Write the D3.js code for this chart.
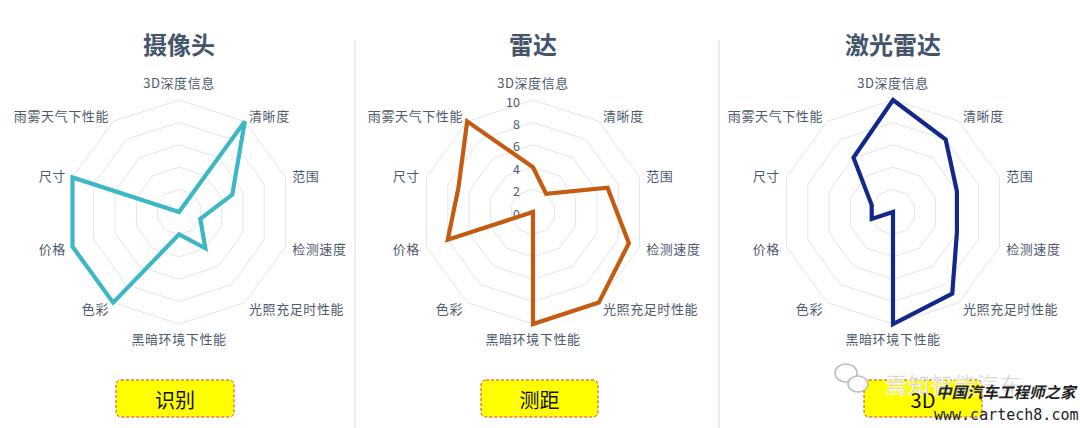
<!DOCTYPE html>
<html>
<head>
<meta charset="utf-8">
<script src="https://cdn.jsdelivr.net/npm/d3@7/dist/d3.min.js"></script>
<style>
  html, body { margin: 0; padding: 0; background: #fff; }
  svg { display: block; font-family: "Noto Sans CJK SC", "Noto Sans", sans-serif; }
</style>
</head>
<body>
<svg id="chart" width="1080" height="428"></svg>
<script>
// ---- data ----
const categories = ["3D深度信息", "清晰度", "范围", "检测速度", "光照充足时性能", "黑暗环境下性能", "色彩", "价格", "尺寸", "雨雾天气下性能"];
const cameraValues = [0, 10, 5, 2, 4, 2, 10, 10, 10, 0];
const radarValues  = [4, 2, 7, 9, 10, 10, 0, 8, 7, 10];
const lidarValues  = [10, 8, 6, 6, 9, 10, 0, 2, 2, 6];
const tickValues = [0, 2, 4, 6, 8, 10];
const panelTitles = ["摄像头", "雷达", "激光雷达"];
const panelTags = ["识别", "测距", "3D"];
const seriesColors = ["#3bb7c6", "#c55a11", "#14288a"];

// ---- layout ----
const svg = d3.select("#chart");
const W = 1080, H = 428;
const R = 112;
const centers = [[179, 212], [533, 212], [893, 212]];
const tagBoxes = [[116, 234], [481, 598], [864, 982]];
const allValues = [cameraValues, radarValues, lidarValues];

const rScale = d3.scaleLinear().domain([0, 10]).range([0, R]);
const angle = d3.scalePoint().domain(categories).range([0, 2 * Math.PI * (categories.length - 1) / categories.length]);

// dividers
[355, 719].forEach(x => {
  svg.append("line").attr("x1", x).attr("x2", x).attr("y1", 40).attr("y2", H)
    .attr("stroke", "#d9d9d9").attr("stroke-width", 1);
});

allValues.forEach((vals, i) => {
  const [cx, cy] = centers[i];
  const g = svg.append("g").attr("transform", `translate(${cx},${cy})`);

  // grid rings
  tickValues.slice(1).forEach(t => {
    const ring = d3.lineRadial().angle(d => angle(d)).radius(() => rScale(t)).curve(d3.curveLinearClosed);
    g.append("path").attr("d", ring(categories)).attr("fill", "none")
      .attr("stroke", "#e3e5ec").attr("stroke-width", 1);
  });

  // axis labels
  categories.forEach(c => {
    const a = angle(c);
    const s = Math.sin(a), co = Math.cos(a);
    const rr = R + 7;
    let x = rr * s, y = -rr * co;
    let anchor = "middle";
    if (s > 0.1) anchor = "start";
    else if (s < -0.1) anchor = "end";
    if (Math.abs(s) <= 0.1) y += co > 0 ? -11 : 7;
    g.append("text").attr("x", x).attr("y", y)
      .attr("text-anchor", anchor).attr("dominant-baseline", "central")
      .attr("font-size", 13).attr("letter-spacing", 0.6).attr("fill", "#4d5a6e")
      .text(c);
  });

  // tick labels (only middle chart)
  if (i === 1) {
    tickValues.forEach(t => {
      g.append("text").attr("x", -13).attr("y", -rScale(t) + 1)
        .attr("text-anchor", "end").attr("dominant-baseline", "central")
        .attr("font-size", 12.5).attr("fill", "#4d5a6e").text(t);
    });
  }

  // series
  const line = d3.lineRadial()
    .angle((d, k) => angle(categories[k]))
    .radius(d => rScale(d))
    .curve(d3.curveLinearClosed);
  g.append("path").attr("d", line(vals)).attr("fill", "none")
    .attr("stroke", seriesColors[i]).attr("stroke-width", 4.2).attr("stroke-linejoin", "miter");

  // title
  svg.append("text").attr("x", cx).attr("y", 54).attr("text-anchor", "middle")
    .attr("font-size", 24).attr("font-weight", "bold").attr("fill", "#44546a")
    .text(panelTitles[i]);

  // tag box
  const [bx0, bx1] = tagBoxes[i];
  svg.append("rect").attr("x", bx0).attr("y", 380).attr("width", bx1 - bx0).attr("height", 37)
    .attr("rx", 5).attr("fill", "#ffff00").attr("stroke", "#e0352b")
    .attr("stroke-width", 1).attr("stroke-dasharray", "3,2");
  svg.append("text").attr("x", (bx0 + bx1) / 2).attr("y", 399).attr("text-anchor", "middle")
    .attr("dominant-baseline", "central").attr("font-size", 20).attr("fill", "#111")
    .text(panelTags[i]);
});

// watermark overlay (present in the reference image)
const wm = svg.append("g");
wm.append("ellipse").attr("cx", 846).attr("cy", 373).attr("rx", 11).attr("ry", 9)
  .attr("fill", "#fff").attr("fill-opacity", 0.8).attr("stroke", "#bbb").attr("stroke-width", 1.5);
wm.append("ellipse").attr("cx", 858).attr("cy", 384).attr("rx", 10).attr("ry", 8)
  .attr("fill", "#fff").attr("fill-opacity", 0.8).attr("stroke", "#bbb").attr("stroke-width", 1.5);
wm.append("text").attr("x", 885).attr("y", 393).attr("font-size", 22)
  .attr("fill", "#c8c8c8").attr("stroke", "#fff").attr("stroke-width", 0.6)
  .attr("letter-spacing", 1).text("焉知智能汽车");
wm.append("text").attr("x", 936).attr("y", 398).attr("font-size", 15.5).attr("font-weight", "bold")
  .attr("fill", "#222").attr("font-style", "italic").text("中国汽车工程师之家");
wm.append("text").attr("x", 934).attr("y", 420).attr("font-size", 15)
  .attr("font-family", "DejaVu Sans Mono, monospace").attr("fill", "#222").text("www.cartech8.com");
</script>
</body>
</html>
